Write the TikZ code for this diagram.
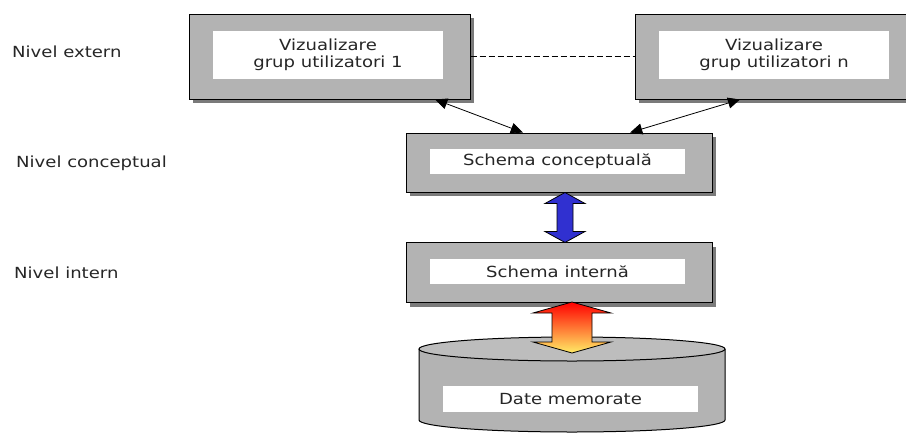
\documentclass[tikz,border=0pt]{standalone}
\usepackage{fontspec}
\setmainfont[FakeStretch=1.18]{DejaVu Sans}
\usetikzlibrary{shadows,arrows.meta,calc}
\definecolor{boxgray}{HTML}{B3B3B3}
\definecolor{topgray}{HTML}{BDBDBD}
\definecolor{shadowgray}{HTML}{7A7A7A}
\definecolor{textgray}{HTML}{262626}
\definecolor{arrowblue}{HTML}{3030D0}
\definecolor{paleyellow}{HTML}{FFEC66}
\begin{document}
\begin{tikzpicture}[x=1pt,y=-1pt,
	font=\fontsize{15.3}{16.5}\selectfont,
	nivel/.style={draw=black,line width=1pt,fill=boxgray,inner sep=0pt,
		drop shadow={shadow xshift=4pt,shadow yshift=-4pt,fill=shadowgray,opacity=1}},
	whitebox/.style={fill=white,inner sep=0pt,text=textgray,align=center},
	nivellabel/.style={anchor=base west,inner sep=0pt,text=textgray},
	conn/.style={{Triangle[length=12pt,width=11pt]}-{Triangle[length=12pt,width=11pt]},line width=0.8pt}]
	\useasboundingbox (0,0) rectangle (906,432);
	% niveluri
	\node[nivellabel] (ext) at (12,57) {Nivel extern};
	\node[nivellabel] (conc) at (16,167) {Nivel conceptual};
	\node[nivellabel] (int) at (14,278) {Nivel intern};
	% nivel extern
	\node[nivel,minimum width=281pt,minimum height=85pt] (grup1) at (329.5,56.5) {};
	\node[whitebox,minimum width=230pt,minimum height=48pt] (txt1) at (328,55) {Vizualizare\\grup utilizatori 1};
	\node[nivel,minimum width=281pt,minimum height=85pt] (grupn) at (775.5,56.5) {};
	\node[whitebox,minimum width=230pt,minimum height=48pt] (txtn) at (774,55) {Vizualizare\\grup utilizatori n};
	\draw[dash pattern=on 6pt off 3pt,line width=0.8pt] (grup1.east) -- (grupn.west);
	% nivel conceptual si intern
	\node[nivel,minimum width=306pt,minimum height=59pt] (concept) at (559,162.5) {};
	\node[whitebox,minimum width=255pt,minimum height=25pt] (txtc) at (557.5,161.5) {Schema conceptuală};
	\node[nivel,minimum width=306pt,minimum height=60pt] (intern) at (559,272.5) {};
	\node[whitebox,minimum width=255pt,minimum height=25pt] (txti) at (557.5,271.5) {Schema internă};
	\draw[conn] ($(grup1.south west)!0.875!(grup1.south east)$) -- ($(concept.north west)!0.382!(concept.north east)$);
	\draw[conn] ($(grupn.south west)!0.374!(grupn.south east)$) -- ($(concept.north west)!0.732!(concept.north east)$);
	\coordinate (bluetop) at ($(concept.south)+(6,0)$);
	\draw[fill=arrowblue,line width=0.8pt] (bluetop) -- ++(20,11) -- ++(-12,0) -- ++(0,28) -- ++(12,0) -- ++(-20,11)
		-- ++(-20,-11) -- ++(12,0) -- ++(0,-28) -- ++(-12,0) -- cycle;
	% date memorate
	\coordinate (disk) at (572,349);
	\draw[fill=boxgray,line width=1pt] ($(disk)+(-153,0)$) -- ++(0,71) arc[start angle=180,end angle=0,x radius=153,y radius=12] -- ++(0,-71);
	\draw[fill=topgray,line width=1pt] (disk) ellipse[x radius=153,y radius=12];
	\node[whitebox,minimum width=255pt,minimum height=26pt] (date) at (570.5,399) {Date memorate};
	\coordinate (redtop) at ($(intern.south)+(13,-1)$);
	\draw[top color=red,bottom color=paleyellow,line width=0.8pt] (redtop) -- ++(39,11) -- ++(-19,0) -- ++(0,29) -- ++(19,0) -- ++(-39,11)
		-- ++(-39,-11) -- ++(19,0) -- ++(0,-29) -- ++(-19,0) -- cycle;
\end{tikzpicture}
\end{document}
